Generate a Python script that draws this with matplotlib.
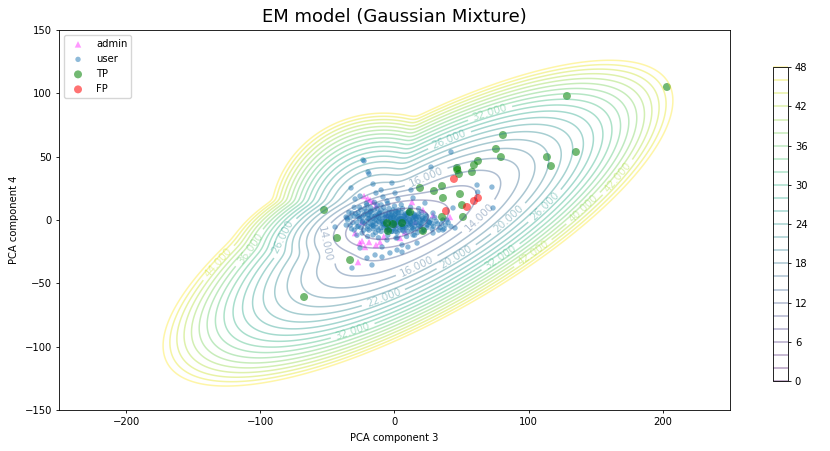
import numpy as np
import matplotlib
matplotlib.use("Agg")
import matplotlib.pyplot as plt

plt.rcParams.update({
    'font.size': 7.2,
    'axes.linewidth': 0.6,
    'xtick.major.size': 2.5, 'ytick.major.size': 2.5,
    'xtick.major.width': 0.6, 'ytick.major.width': 0.6,
    'xtick.major.pad': 2.5, 'ytick.major.pad': 2.5,
})

# ---- Gaussian mixture parameters (read approximately from the contour shapes) ----
gmm_weights = [0.85, 0.0604, 0.00066]
gmm_means = [(0.0, -3.0), (17.5, -2.5), (-8.0, 0.0)]
gmm_sds = [(14.0, 6.0), (24.9, 8.5), (10.2, 10.2)]
gmm_angles = [15.0, 31.0, 0.0]

levels = list(range(0, 49, 2))
cbar_ticks = [0, 6, 12, 18, 24, 30, 36, 42, 48]

# where the contour labels sit (data coordinates)
label_spots = [(61, 5), (24, 33), (-55, -20), (17, -37), (84, 2), (46, -29), (-8, -62),
               (41, 63), (112, 11), (79, -29), (71, 85), (140, 10), (-31, -88), (166, 34),
               (-132, -33), (-108, -22), (-82, -14), (103, -26)]

# ---- points ----
admin_x = [-22.7, -18.2, -13.8, -24.2, -19.0, -22.0, -13.8, -27.2, 13.0, 21.2, -24.2, -10.8,
           -5.6, 28.7, 41.3, 0.4, 7.8, 15.3, 4.1, -29.4, -16.0, -8.0, -20.0, -26.0]
admin_y = [18.9, 15.8, 11.8, -16.6, -17.4, -21.3, -19.7, -33.2, 14.2, 7.9, -1.6, -17.4,
           3.9, 3.9, 2.4, -3.9, -9.5, -1.6, -14.2, -10.3, 14.5, -13.0, 17.0, -18.0]

user_x = [-22.7, -19.0, -16.0, -32.4, -1.9, 0.4, -13.8, -10.0, -25.7, -29.4, -8.6, -5.6, 2.6,
          -13.0, -20.5, -31.7, -27.2, -18.2, -36.1,
          42.1, 27.2, 12.3, 61.5, 73.4, 13.8, 22.7, 43.6, 28.7, 20.5,
          -44.3, -35.4, -25.7, -20.5, -14.5, -9.3, -3.4, 1.9, -16.8, -31.7, -9.3, 5.6, 10.0,
          -5.6, 1.1, -16.0, -24.2, -27.9, 13.8,
          16.8, 36.1, 45.1, 28.7, 5.6, 72.6, 62.0, -23.5, -19.7,
          -35, -33, -30, -28, -27, -25, -24, -22, -22, -20, -19, -18, -17, -16, -15, -14, -13,
          -12, -11, -10, -9, -8, -8, -7, -6, -5, -4, -4, -3, -2, -1, -1, 0, 0, 1, 2, 2, 3, 3,
          4, 5, 5, 6, 6, 7, 8, 8, 9, 10, 10, 11, 12, 13, 14, 15, 16, 17, 18, 19, 20, 21, 22,
          24, 25, 27, 28, 30, 32, 34, 36, 38, 40,
          -30, -26, -21, -15, -10, -5, 0, 5, 12, 18, -28, -20, -12, -5, 2, 9, 15,
          -2, 1, -3, 4, -6, 7, -9, 11, -1, 3, 6, -7, -12, 14, -16, 19, -24, 23, -19, -14, 9,
          13, -4, 1,
          -33, -31, -29, -27, -26, -25, -23, -23, -21, -21, -20, -18, -18, -17, -16, -15, -14,
          -13, -12, -11, -10, -10, -9, -8, -7, -6, -5, -5, -4, -3, -2, -2, -1, 0, 1, 1, 2, 3,
          4, 5, 6, 7, 7, 8, 9, 10, 11, 12, 13, 14, 15, 16, 17, 18, 20, 21, 23, 24, 26, 29, 31,
          33, 35, 37, 39, 42, -36, -34, -32, -30,
          -24, -20, -17, -13, -9, -6, -3, 0, 3, 6, 9, 12, 15, 18, 22, 26,
          -22, -18, -14, -11, -7, -4, -1, 2, 5, 8, 11, 14, 17, 21, 25, 28,
          -20, -16, -12, -8, -5, -2, 1, 4, 7, 10, 13, 16, 20, 24,
          -26, -19, -15, -11, -7, -3, 0, 4, 8, 12, 16, 19]
user_y = [46.6, 36.3, 28.4, 25.3, 29.2, 21.3, 21.3, 23.7, 18.9, 16.6, 18.2, 15.0, 16.6,
          11.8, 11.8, 5.5, 2.4, 6.3, 2.4,
          53.7, 41.8, 23.7, 27.6, 9.5, 17.4, 13.4, 9.5, 5.5, 2.4,
          -5.5, 1.6, -22.1, -30.0, -27.6, -29.2, -26.0, -23.7, -35.5, -37.9, -21.3, -19.7,
          -21.3, -15.8, -14.2, -11.8, -10.3, -5.5, -11.8,
          -18.2, -7.9, -6.3, -10.3, -25.3, 26.0, 22.0, 47.4, 38.0,
          0, -4, 3, -2, 6, -6, 2, 9, -3, 4, -8, 0, 7, -4, 3, -10, 9,
          -1, 5, -6, 1, 10, -3, 4, -9, 0, 6, -5, 2, -2, 8, -7, 0, 4, -4, 2, -10, 6, -1,
          -6, 3, -3, 9, -8, 0, 5, -5, -1, 3, -9, 7, -3, 1, -7, 4, -2, -10, 2, -5, 6, -1, -8,
          3, -4, 0, -7, 2, -3, -6, 0, -4, -2,
          -8, 10, 13, 14, 12, 13, 11, 12, 10, 9, -12, -13, -14, -12, -14, -13, -12,
          4, 1, -1, 1, 3, -2, -3, 0, -3, 3, 1, -1, 2, 2, 1, 0, -1, 1, 4, -3, 4,
          -4, -8, 7,
          2, -2, 5, -5, 1, 8, -8, 4, -1, 7, -5, 10, -3, 3, -7, 8, 0,
          -6, 5, -2, 8, -9, 4, -6, 7, -2, 3, -8, 9, -4, 6, -9, 2, -5, 5, -9, -2, 8,
          -4, 6, -5, 3, -9, 1, -6, 6, -4, 3, -8, 5, -5, 1, -7, 5, -3, -9, 4, -6, -2, -5, -1,
          -8, -3, -7, 0, -5, -4, 6, -7, 10,
          -2, 1, -4, 3, -1, -6, 2, -3, 0, -5, 1, -2, 3, -4, 0, -2,
          5, 7, 4, 6, 2, 5, 3, 6, 1, 4, 6, 0, 3, 1, -1, -3,
          -7, -5, -8, -3, -6, -9, -7, -8, -6, -3, -6, -2, -5, -4,
          3, 1, -1, 1, -4, 1, -1, -2, -1, -1, 2, -2]

tp_x = [203.0, 128.5, 80.8, 75.6, 79.3, 113.6, 116.6, 135.2, 62.2, 59.2, 46.6, 48.0, 57.7,
        19.0, 29.4, 35.4, 36.1, 48.8, 50.3, 35.4, 51.0, 21.2, 11.5, 5.6, -1.1, -5.6, -4.8,
        -52.5, -42.8, -33.1, -67.4, 46.8]
tp_y = [105.0, 97.9, 67.1, 56.1, 49.7, 49.7, 42.6, 53.7, 46.6, 43.4, 41.1, 36.3, 37.9,
        25.3, 22.9, 26.8, 17.4, 20.5, 11.8, 2.4, 2.4, -8.7, 6.3, -2.4, -3.2, -2.4, -8.7,
        7.9, -14.2, -31.6, -60.8, 39.5]

fp_x = [44.3, 59.2, 62.2, 54.0, 38.4]
fp_y = [32.4, 15.0, 17.4, 10.3, 7.1]


def neg_log_density(X, Y):
    total = np.zeros_like(X)
    for w, m, s, a in zip(gmm_weights, gmm_means, gmm_sds, gmm_angles):
        t = np.deg2rad(a)
        R = np.array([[np.cos(t), -np.sin(t)], [np.sin(t), np.cos(t)]])
        cov = R @ np.diag([s[0] ** 2, s[1] ** 2]) @ R.T
        inv = np.linalg.inv(cov)
        dx = X - m[0]
        dy = Y - m[1]
        d2 = inv[0, 0] * dx * dx + 2 * inv[0, 1] * dx * dy + inv[1, 1] * dy * dy
        norm = 1.0 / (2 * np.pi * np.sqrt(np.linalg.det(cov)))
        total += w * norm * np.exp(-0.5 * d2)
    return -np.log(total + 1e-300)


fig = plt.figure(figsize=(8.3, 4.51), dpi=100)
ax = fig.add_axes([0.0711, 0.0909, 0.8084, 0.8426])

gx = np.linspace(-250, 250, 600)
gy = np.linspace(-150, 150, 450)
X, Y = np.meshgrid(gx, gy)
Z = neg_log_density(X, Y)

ax.set_xlim(-250, 250)
ax.set_ylim(-150, 150)

cs = ax.contour(X, Y, Z, levels=levels, cmap='viridis', alpha=0.4, linewidths=1.1)
ax.clabel(cs, inline=True, fontsize=7.5, fmt='%1.3f', manual=label_spots)

ax.scatter(admin_x, admin_y, marker='^', s=22, color='magenta', alpha=0.4, label='admin',
           edgecolors='none')
ax.scatter(user_x, user_y, marker='.', s=60, color='#1f77b4', alpha=0.5, label='user',
           edgecolors='none')
ax.scatter(tp_x, tp_y, marker='o', s=33, color='green', alpha=0.55, label='TP',
           edgecolors='none')
ax.scatter(fp_x, fp_y, marker='o', s=33, color='red', alpha=0.55, label='FP',
           edgecolors='none')

ax.set_xlim(-250, 250)
ax.set_ylim(-150, 150)
ax.set_xticks([-200, -100, 0, 100, 200])
ax.set_yticks([-150, -100, -50, 0, 50, 100, 150])
ax.set_xlabel('PCA component 3')
ax.set_ylabel('PCA component 4')
ax.set_title('EM model (Gaussian Mixture)', fontsize=13)
ax.legend(loc='upper left', fontsize=7.2)

cax = fig.add_axes([0.9313, 0.155, 0.018, 0.696])
cb = fig.colorbar(cs, cax=cax)
cb.set_ticks(cbar_ticks)
cb.outline.set_linewidth(0.6)

fig.savefig('out.png', dpi=100)
